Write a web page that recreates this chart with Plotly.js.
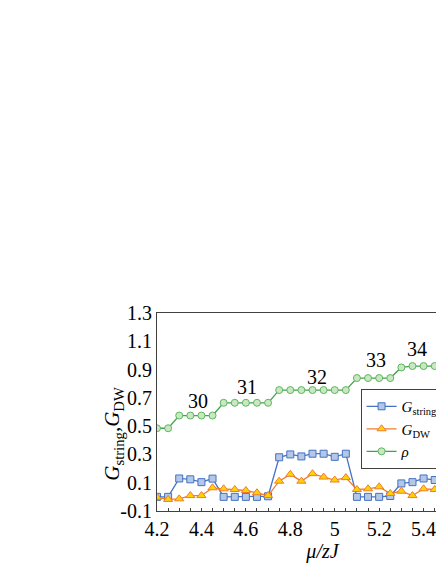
<!DOCTYPE html>
<html>
<head>
<meta charset="utf-8">
<script src="https://cdn.plot.ly/plotly-3.0.1.min.js"></script>
<style>
  html, body { margin: 0; padding: 0; overflow: hidden; background: #fff; }
  #chart { width: 500px; height: 564px; }
</style>
</head>
<body>
<div id="chart"></div>
<script>
// chemical potential (x axis)
const muOverZJ = [4.2, 4.25, 4.3, 4.35, 4.4, 4.45, 4.5, 4.55, 4.6, 4.65,
                  4.7, 4.75, 4.8, 4.85, 4.9, 4.95, 5.0, 5.05, 5.1, 5.15,
                  5.2, 5.25, 5.3, 5.35, 5.4, 5.45];

const gString = [0.0, 0.0, 0.13, 0.124, 0.104, 0.129, 0.0, 0.0, 0.0, 0.0,
                 0.004, 0.28, 0.30, 0.286, 0.305, 0.305, 0.283, 0.305, 0.0, 0.0,
                 0.0, 0.006, 0.095, 0.104, 0.13, 0.119];

const gDW = [-0.003, -0.018, -0.014, 0.009, 0.009, 0.064, 0.057, 0.052, 0.045, 0.029,
             0.009, 0.111, 0.159, 0.111, 0.164, 0.14, 0.119, 0.136, 0.052, 0.057,
             0.071, 0.024, 0.04, 0.009, 0.057, 0.052];

const rho = [0.485, 0.485, 0.575, 0.575, 0.575, 0.575, 0.665, 0.665, 0.665, 0.665,
             0.665, 0.755, 0.755, 0.755, 0.755, 0.755, 0.755, 0.755, 0.84, 0.84,
             0.84, 0.84, 0.915, 0.925, 0.925, 0.925];

// particle number labels on the rho plateaus
const plateauLabels = ['30', '31', '32', '33', '34'];
const plateauX = [4.385, 4.605, 4.92, 5.188, 5.37];
const plateauY = [0.675, 0.775, 0.85, 0.969, 1.045];

const serif = '"Liberation Serif", "Times New Roman", serif';

const traces = [
  {
    x: muOverZJ, y: gString, type: 'scatter', mode: 'lines+markers',
    name: '<i>G</i><sub>string</sub>',
    line: { color: '#4472C4', width: 1.3 },
    marker: { symbol: 'square', size: 7, color: '#B4C7E7', line: { color: '#4472C4', width: 1 } }
  },
  {
    x: muOverZJ, y: gDW, type: 'scatter', mode: 'lines+markers',
    name: '<i>G</i><sub>DW</sub>',
    line: { color: '#ED7D31', width: 1.3 },
    marker: { symbol: 'triangle-up', size: 8, color: '#FFD200', line: { color: '#ED7D31', width: 1 } }
  },
  {
    x: muOverZJ, y: rho, type: 'scatter', mode: 'lines+markers',
    name: '<i>ρ</i>',
    line: { color: '#3FA34D', width: 1.3 },
    marker: { symbol: 'circle', size: 7, color: '#C9E7C3', line: { color: '#5CB85C', width: 1 } }
  }
];

const annotations = plateauLabels.map((label, i) => ({
  x: plateauX[i], y: plateauY[i], xref: 'x', yref: 'y',
  text: label, showarrow: false,
  font: { family: serif, size: 20, color: '#000' }
}));

// y axis title placed by hand so it sits a little below the middle, as in the figure
annotations.push({
  xref: 'paper', yref: 'paper', x: -0.133, y: 0.39,
  xanchor: 'center', yanchor: 'middle',
  text: '<i>G</i><sub>string</sub>,<i>G</i><sub>DW</sub>',
  textangle: -90, showarrow: false,
  font: { family: serif, size: 21, color: '#000' }
});

const layout = {
  width: 500,
  height: 564,
  margin: { l: 157, r: 12, t: 313, b: 53, pad: 0 },
  paper_bgcolor: '#fff',
  plot_bgcolor: '#fff',
  showlegend: true,
  font: { family: serif, size: 20, color: '#000' },
  xaxis: {
    range: [4.2, 5.69],
    tickvals: [4.2, 4.4, 4.6, 4.8, 5.0, 5.2, 5.4, 5.6],
    ticktext: ['4.2', '4.4', '4.6', '4.8', '5', '5.2', '5.4', '5.6'],
    ticks: 'inside', ticklen: 3, tickcolor: '#404040',
    minor: { dtick: 0.05, tick0: 4.2, ticks: 'inside', ticklen: 3, tickcolor: '#404040' },
    showline: true, linecolor: '#404040', linewidth: 1, mirror: true,
    showgrid: false, zeroline: false,
    tickfont: { family: serif, size: 20, color: '#000' },
    title: { text: '<i>μ/zJ</i>', font: { family: serif, size: 20, color: '#000' }, standoff: 0 }
  },
  yaxis: {
    range: [-0.1, 1.3],
    tickvals: [-0.1, 0.1, 0.3, 0.5, 0.7, 0.9, 1.1, 1.3],
    ticktext: ['-0.1', '0.1', '0.3', '0.5', '0.7', '0.9', '1.1', '1.3'],
    ticks: '', showline: true, linecolor: '#404040', linewidth: 1,
    showgrid: false, zeroline: false,
    tickfont: { family: serif, size: 20, color: '#000' }
  },
  legend: {
    x: 0.615, y: 0.616, xanchor: 'left', yanchor: 'top',
    bgcolor: '#fff', bordercolor: '#404040', borderwidth: 1,
    itemwidth: 30,
    font: { family: serif, size: 15, color: '#000' },
    traceorder: 'normal'
  },
  annotations: annotations
};

Plotly.newPlot('chart', traces, layout, { displayModeBar: false, staticPlot: true });
</script>
</body>
</html>
